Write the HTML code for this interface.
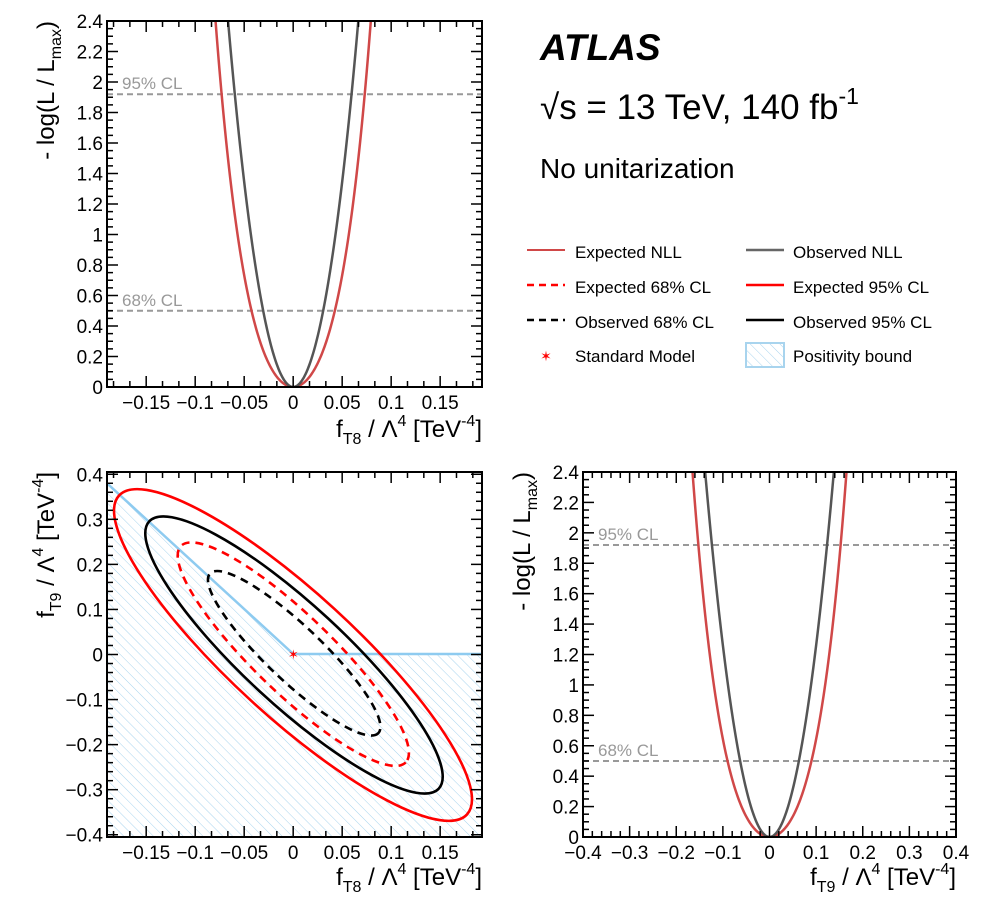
<!DOCTYPE html>
<html><head><meta charset="utf-8"><style>
html,body{margin:0;padding:0;background:#fff;width:1000px;height:900px;overflow:hidden}
svg{display:block}
text{font-family:"Liberation Sans",sans-serif}
</style></head><body>
<svg id="s" width="1000" height="900" xmlns="http://www.w3.org/2000/svg">
<defs>
<pattern id="hatch" patternUnits="userSpaceOnUse" width="7" height="7" patternTransform="rotate(-45)">
<line x1="0" y1="0" x2="0" y2="7" stroke="#a8d4ee" stroke-width="1"/>
</pattern>
<clipPath id="c1"><rect x="107" y="21" width="375" height="366"/></clipPath>
<clipPath id="c2"><rect x="107" y="472" width="375" height="365"/></clipPath>
<clipPath id="c3"><rect x="583" y="472" width="373" height="365"/></clipPath>
</defs>
<g id="g"></g>
<text x="540" y="60" font-size="37" font-weight="bold" font-style="italic">ATLAS</text>
<text x="540" y="119" font-size="35">√s = 13 TeV, 140 fb<tspan font-size="23" dy="-15">-1</tspan></text>
<text x="540" y="178" font-size="28">No unitarization</text>
<g font-size="17">
<line x1="527" y1="250" x2="565" y2="250" stroke="#d04848" stroke-width="2"/>
<text x="575" y="258">Expected NLL</text>
<line x1="746" y1="250" x2="784" y2="250" stroke="#666" stroke-width="2.5"/>
<text x="793" y="258">Observed NLL</text>
<line x1="527" y1="285" x2="565" y2="285" stroke="#f00" stroke-width="2.5" stroke-dasharray="7,5"/>
<text x="575" y="293">Expected 68% CL</text>
<line x1="746" y1="285" x2="784" y2="285" stroke="#f00" stroke-width="2.5"/>
<text x="793" y="293">Expected 95% CL</text>
<line x1="527" y1="320" x2="565" y2="320" stroke="#000" stroke-width="2.5" stroke-dasharray="7,5"/>
<text x="575" y="328">Observed 68% CL</text>
<line x1="746" y1="320" x2="784" y2="320" stroke="#000" stroke-width="2.5"/>
<text x="793" y="328">Observed 95% CL</text>
<text x="546" y="361" font-size="14" fill="#f00" text-anchor="middle">✶</text>
<text x="575" y="362">Standard Model</text>
<rect x="746" y="343" width="38" height="24" fill="url(#hatch)" stroke="#a8d4ee" stroke-width="2"/>
<text x="793" y="362">Positivity bound</text>
</g>
</svg>
<script>
var NS="http://www.w3.org/2000/svg",G=document.getElementById("g");
function el(t,a,p){var e=document.createElementNS(NS,t);for(var k in a)e.setAttribute(k,a[k]);(p||G).appendChild(e);return e;}
function txt(x,y,s,a){var e=el("text",Object.assign({x:x,y:y},a||{}));e.innerHTML=s;return e;}
function fr(l,t,r,b){el("rect",{x:l,y:t,width:r-l,height:b-t,fill:"none",stroke:"#000","stroke-width":2});}
function xticks(l,r,t,b,v0,v1,major,nsub,fmt){
 var sc=(r-l)/(v1-v0),step=major/nsub,start=Math.ceil(v0/step-1e-6);
 for(var i=start;i*step<=v1+1e-9;i++){var v=i*step,x=l+(v-v0)*sc,mj=Math.abs(Math.round(i/nsub)*nsub-i)<1e-6,L=mj?11:6;
  el("line",{x1:x,y1:b,x2:x,y2:b-L,stroke:"#000","stroke-width":1.5});
  el("line",{x1:x,y1:t,x2:x,y2:t+L,stroke:"#000","stroke-width":1.5});
  if(mj)txt(x,b+22,fmt(v),{"font-size":19,"text-anchor":"middle"});}
}
function yticks(l,r,t,b,v0,v1,major,nsub,fmt){
 var sc=(b-t)/(v1-v0),step=major/nsub,start=Math.ceil(v0/step-1e-6);
 for(var i=start;i*step<=v1+1e-9;i++){var v=i*step,y=b-(v-v0)*sc,mj=Math.abs(Math.round(i/nsub)*nsub-i)<1e-6,L=mj?11:6;
  el("line",{x1:l,y1:y,x2:l+L,y2:y,stroke:"#000","stroke-width":1.5});
  el("line",{x1:r,y1:y,x2:r-L,y2:y,stroke:"#000","stroke-width":1.5});
  if(mj)txt(l-4,y+7,fmt(v),{"font-size":19,"text-anchor":"end"});}
}
function f(v){var s=(Math.abs(v)<1e-9?0:+v.toFixed(3)).toString();return s.replace("-","\u2212");}
function nll(l,r,t,b,v0,v1,a,bq,c,clip){
 var d="";for(var i=0;i<=400;i++){var x=v0+(v1-v0)*i/400,y=a*x*x+bq*Math.pow(x,4);
  var px=l+(x-v0)/(v1-v0)*(r-l),py=b-y/2.4*(b-t);if(py<t-30)py=t-30;d+=(d?"L":"M")+px.toFixed(2)+","+py.toFixed(2);}
 el("path",{d:d,fill:"none",stroke:c,"stroke-width":2.5,"clip-path":"url(#"+clip+")"});
}
function cl(l,r,t,b){
 [[1.92,"95% CL"],[0.5,"68% CL"]].forEach(function(q){var y=b-q[0]/2.4*(b-t);
  el("line",{x1:l,y1:y,x2:r,y2:y,stroke:"#999","stroke-width":2,"stroke-dasharray":"6,4"});
  txt(l+15,y-5,q[1],{"font-size":17,fill:"#999"});});
}
var ttl8='f<tspan font-size="16" dy="7">T8</tspan><tspan dy="-7"> / Λ</tspan><tspan font-size="16" dy="-11">4</tspan><tspan dy="11"> [TeV</tspan><tspan font-size="16" dy="-11">-4</tspan><tspan dy="11">]</tspan>';
var ttl9=ttl8.replace("T8","T9");
var L1=107,R1=482,T1=21,B1=387;
cl(L1,R1,T1,B1);
nll(L1,R1,T1,B1,-0.19,0.1927,234,23640,"#d04848","c1");
nll(L1,R1,T1,B1,-0.19,0.1927,531,2810,"#555","c1");
fr(L1,T1,R1,B1);
xticks(L1,R1,T1,B1,-0.19,0.1927,0.05,3,f);
yticks(L1,R1,T1,B1,0,2.4,0.2,4,f);
txt(482,437,ttl8,{"font-size":24,"text-anchor":"end"});
var yt='- log(L / L<tspan font-size="16" dy="7">max</tspan><tspan dy="-7">)</tspan>';
txt(0,0,yt,{"font-size":24,"text-anchor":"end",transform:"translate(54,21) rotate(-90)"});
var L2=107,R2=482,T2=472,B2=837;
el("path",{d:"M107,483.3 L293.3,654 L482,654 L482,837 L107,837 Z",fill:"url(#hatch)","clip-path":"url(#c2)"});
var EG=el("g",{"clip-path":"url(#c2)"});
function ell(cx,cy,a,b,ang,c,dash){var e=el("ellipse",{cx:cx,cy:cy,rx:a,ry:b,transform:"rotate("+ang+" "+cx+" "+cy+")",fill:"none",stroke:c,"stroke-width":2.6},EG);if(dash)e.setAttribute("stroke-dasharray","8,6");}
el("polyline",{points:"107,483.3 293.3,654 482,654",fill:"none",stroke:"#8ecbf0","stroke-width":2.5},EG);
ell(293,655,236,62,42.5,"#f00");
ell(294,655,197,50,42.7,"#000");
ell(293.3,654.2,156,39,43.9,"#f00",1);
ell(294.2,653.3,116,27.5,43.5,"#000",1);
txt(293.3,659,"✶",{"font-size":13,fill:"#f00","text-anchor":"middle"});
fr(L2,T2,R2,B2);
xticks(L2,R2,T2,B2,-0.19,0.1927,0.05,3,f);
yticks(L2,R2,T2,B2,-0.405,0.405,0.1,5,f);
txt(482,885,ttl8,{"font-size":24,"text-anchor":"end"});
txt(0,0,ttl9,{"font-size":24,"text-anchor":"end",transform:"translate(54,472) rotate(-90)"});
var L3=583,R3=956,T3=472,B3=837;
cl(L3,R3,T3,B3);
nll(L3,R3,T3,B3,-0.4,0.4,50.6,1373,"#d04848","c3");
nll(L3,R3,T3,B3,-0.4,0.4,126,0,"#555","c3");
fr(L3,T3,R3,B3);
xticks(L3,R3,T3,B3,-0.4,0.4,0.1,5,f);
yticks(L3,R3,T3,B3,0,2.4,0.2,4,f);
txt(956,885,ttl9,{"font-size":24,"text-anchor":"end"});
txt(0,0,yt,{"font-size":24,"text-anchor":"end",transform:"translate(530,472) rotate(-90)"});
</script>
</body></html>
